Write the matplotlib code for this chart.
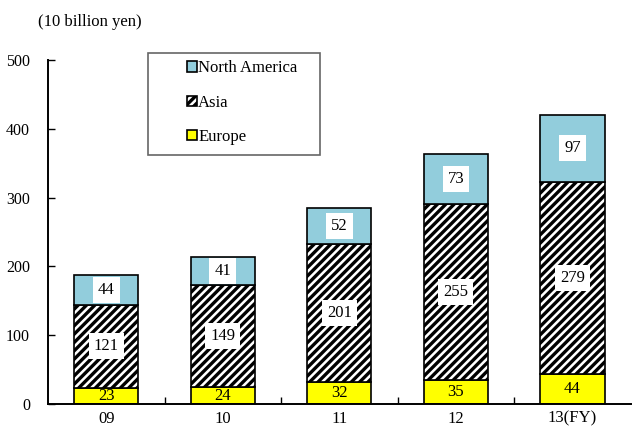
import matplotlib.pyplot as plt
from matplotlib.patches import Rectangle
import numpy as np

plt.rcParams['font.family'] = ['Liberation Serif', 'DejaVu Serif']
plt.rcParams['hatch.linewidth'] = 2.4

years = ['09', '10', '11', '12', '13(FY)']
europe = [23, 24, 32, 35, 44]
asia = [121, 149, 201, 255, 279]
north_america = [44, 41, 52, 73, 97]

fig = plt.figure(figsize=(6.32, 4.26), dpi=100)
ax = fig.add_axes([0.076, 0.052, 0.922, 0.807])

x = np.arange(len(years))
w = 0.55
eu_bars = ax.bar(x, europe, w, color='#ffff00', edgecolor='black', linewidth=1.2, label='Europe')
asia_bars = ax.bar(x, asia, w, bottom=europe, color='white', edgecolor='black',
                   hatch='////', linewidth=1.2, label='Asia')
base = np.array(europe) + np.array(asia)
na_bars = ax.bar(x, north_america, w, bottom=base, color='#92cddc', edgecolor='black',
                 linewidth=1.2, label='North America')

# value labels: plain on the yellow segment, white boxes elsewhere
box = dict(boxstyle='square,pad=0.3', fc='white', ec='none')
for i in range(len(years)):
    ax.text(x[i], europe[i] / 2, str(europe[i]), ha='center', va='center', fontsize=12)
    ax.text(x[i], europe[i] + asia[i] / 2, str(asia[i]), ha='center', va='center',
            fontsize=12, bbox=box)
    ax.text(x[i], base[i] + north_america[i] / 2, str(north_america[i]), ha='center',
            va='center', fontsize=12, bbox=box)

ax.set_xlim(-0.5, len(years) - 0.5)
ax.set_ylim(0, 500)
ax.set_yticks(range(0, 501, 100))
ax.set_xticks(x)
ax.set_xticklabels(years, fontsize=12)
ax.tick_params(axis='x', length=0, pad=5)
ax.set_xticks(np.arange(0.5, len(years) - 1, 1), minor=True)
ax.tick_params(axis='x', which='minor', direction='in', length=5, width=1)
ax.tick_params(axis='y', direction='in', length=5, width=1, labelsize=11.5, pad=13)
for s in ['top', 'right']:
    ax.spines[s].set_visible(False)
for s in ['left', 'bottom']:
    ax.spines[s].set_linewidth(1.4)

fig.text(0.06, 0.94, '(10 billion yen)', fontsize=12)

# legend with a separate frame
ax.add_patch(Rectangle((0.1715, 0.724), 0.295, 0.296, transform=ax.transAxes,
                       fill=False, edgecolor='#666666', linewidth=1.2, clip_on=False))
leg = ax.legend(handles=[na_bars, asia_bars, eu_bars],
                labels=['North America', 'Asia', 'Europe'],
                loc='center left', bbox_to_anchor=(0.2384, 0.876),
                fontsize=12, frameon=False,
                handlelength=0.6, handleheight=0.6, handletextpad=0.08,
                labelspacing=1.1, borderpad=0, borderaxespad=0)

fig.savefig('out.png', dpi=100)
